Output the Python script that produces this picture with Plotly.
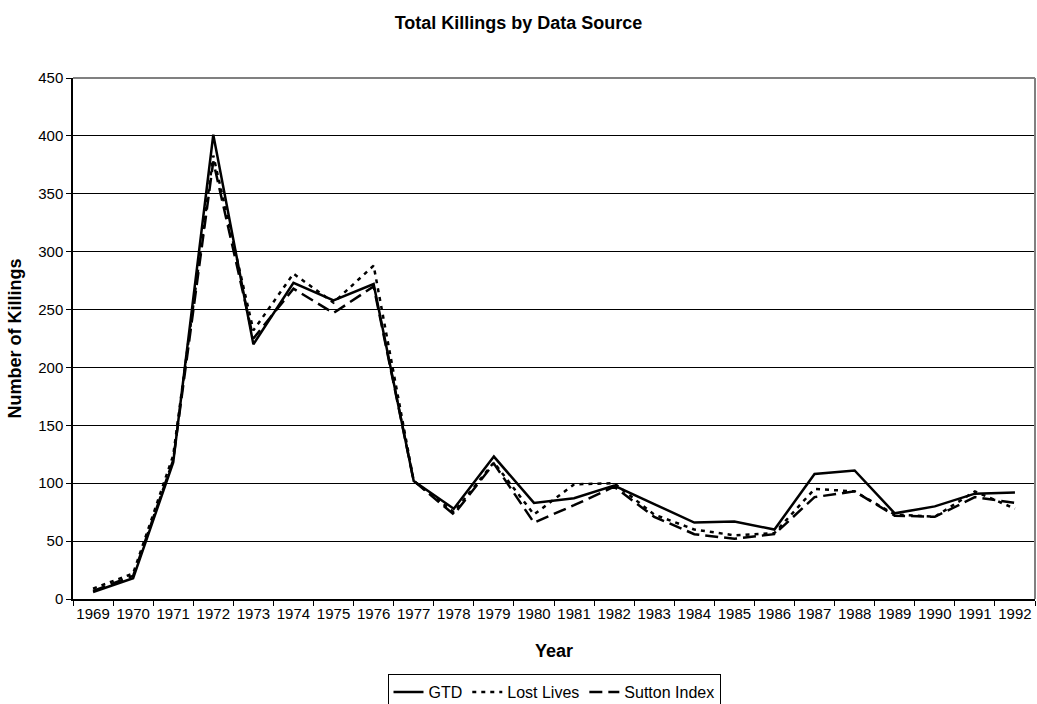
import plotly.graph_objects as go

# Annual killings reported by three data sources
years = [str(y) for y in range(1969, 1993)]
gtd = [6, 18, 118, 401, 220, 273, 258, 272, 102, 78, 123, 83, 87, 98, 82, 66,
       67, 60, 108, 111, 74, 80, 91, 92]
lost_lives = [9, 22, 124, 383, 232, 281, 256, 288, 102, 75, 118, 73, 99, 100, 73, 60,
              55, 57, 95, 93, 73, 71, 93, 78]
sutton_index = [7, 20, 120, 378, 225, 268, 247, 270, 102, 73, 117, 66, 81, 97, 71, 56,
                52, 56, 88, 93, 72, 71, 88, 83]

y_ticks = list(range(0, 451, 50))

FONT = "Liberation Sans, Arial, sans-serif"
W, H = 1037, 704

fig = go.Figure()
fig.add_trace(go.Scatter(x=years, y=gtd, name="GTD", mode="lines",
                         line=dict(color="black", width=2.5)))
fig.add_trace(go.Scatter(x=years, y=lost_lives, name="Lost Lives", mode="lines",
                         line=dict(color="black", width=2.5, dash="4px,5px")))
fig.add_trace(go.Scatter(x=years, y=sutton_index, name="Sutton Index", mode="lines",
                         line=dict(color="black", width=2.5, dash="13px,6px")))

# grey frame on the top and right of the plot area
fig.add_shape(type="line", xref="paper", yref="paper", x0=0, x1=1, y0=1, y1=1,
              line=dict(color="#808080", width=2), layer="above")
fig.add_shape(type="line", xref="paper", yref="paper", x0=1, x1=1, y0=0, y1=1,
              line=dict(color="#808080", width=2), layer="above")

fig.update_layout(
    width=W, height=H,
    margin=dict(l=73, r=2, t=78, b=105),
    paper_bgcolor="white", plot_bgcolor="white",
    font=dict(family=FONT, size=15, color="black"),
    title=dict(text="<b>Total Killings by Data Source</b>", x=0.5, xanchor="center",
               y=1 - 23 / H, yanchor="middle", font=dict(size=18, family=FONT)),
    showlegend=True,
    legend=dict(orientation="h", x=0.5, xanchor="center",
                yref="container", y=1 - 674 / H, yanchor="top",
                bordercolor="black", borderwidth=1, bgcolor="white",
                font=dict(size=16, family=FONT), itemwidth=30,
                tracegroupgap=0),
)

fig.update_xaxes(
    type="category", categoryorder="array", categoryarray=years,
    range=[-0.5, len(years) - 0.5],
    tickson="boundaries", ticks="outside", ticklen=5, tickcolor="black",
    tickangle=0,
    showline=True, linecolor="black", linewidth=1.5, showgrid=False,
    tickfont=dict(size=15, family=FONT),
    title=dict(text="<b>Year</b>", font=dict(size=18, family=FONT), standoff=24),
)
fig.update_yaxes(
    range=[0, 450], tickvals=y_ticks, ticks="outside", ticklen=5, tickcolor="black",
    showline=True, linecolor="black", linewidth=1.5,
    showgrid=True, gridcolor="black", gridwidth=1, zeroline=False,
    tickfont=dict(size=15, family=FONT),
    title=dict(text="<b>Number of Killings</b>", font=dict(size=18, family=FONT),
               standoff=12),
)

fig.write_html("out.html")
